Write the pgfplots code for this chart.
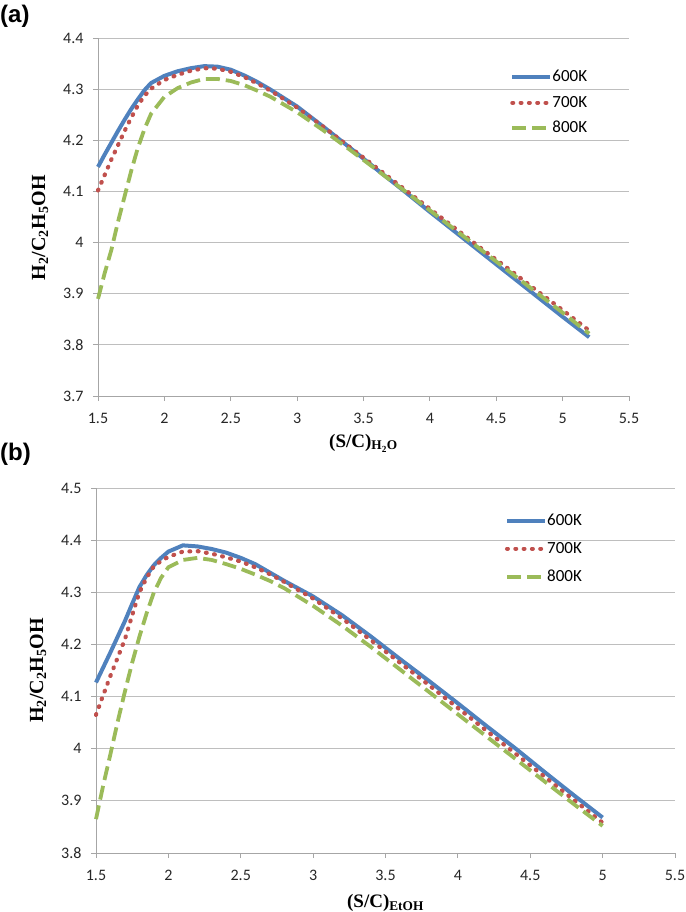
\documentclass[border=0pt]{standalone}
\usepackage{fontspec}
\setmainfont{Carlito}
\newfontfamily\labfont{Liberation Serif}
\newfontfamily\panelfont{Liberation Sans}
\usepackage{pgfplots}
\pgfplotsset{compat=1.18}
\definecolor{cblue}{HTML}{4F81BD}
\definecolor{cred}{HTML}{C0504D}
\definecolor{cgreen}{HTML}{9BBB59}
\definecolor{gridc}{HTML}{BEBEBE}
\definecolor{axc}{HTML}{A6A6A6}

\pgfplotstableread{
x a600 a700 a800
1.5 4.148 4.102 3.890
1.55 4.172 4.132 3.940
1.6 4.195 4.162 3.985
1.65 4.218 4.190 4.040
1.7 4.240 4.218 4.090
1.75 4.261 4.244 4.140
1.8 4.280 4.268 4.185
1.85 4.298 4.287 4.222
1.9 4.312 4.301 4.252
2.0 4.326 4.318 4.285
2.1 4.335 4.328 4.302
2.2 4.341 4.336 4.313
2.3 4.345 4.341 4.320
2.4 4.344 4.340 4.320
2.5 4.338 4.334 4.316
2.6 4.327 4.324 4.308
2.7 4.314 4.311 4.297
2.8 4.299 4.297 4.285
3.0 4.266 4.264 4.255
3.2 4.226 4.226 4.219
3.4 4.185 4.186 4.181
3.6 4.143 4.146 4.142
3.8 4.102 4.106 4.103
4.0 4.060 4.066 4.063
4.2 4.019 4.026 4.023
4.4 3.978 3.986 3.983
4.6 3.937 3.947 3.943
4.8 3.896 3.907 3.903
5.0 3.855 3.868 3.863
5.2 3.815 3.828 3.822
}\tableA

\pgfplotstableread{
x b600 b700 b800
1.5 4.127 4.065 3.865
1.55 4.156 4.103 3.930
1.6 4.185 4.140 3.990
1.65 4.215 4.175 4.052
1.7 4.245 4.210 4.110
1.75 4.278 4.256 4.165
1.8 4.310 4.300 4.215
1.85 4.333 4.328 4.260
1.9 4.352 4.350 4.300
1.95 4.366 4.360 4.328
2.0 4.378 4.368 4.348
2.1 4.390 4.378 4.362
2.2 4.388 4.379 4.366
2.3 4.383 4.374 4.362
2.4 4.376 4.367 4.354
2.5 4.366 4.359 4.345
2.6 4.354 4.348 4.334
2.7 4.338 4.335 4.322
2.8 4.322 4.320 4.308
3.0 4.292 4.288 4.274
3.2 4.256 4.250 4.236
3.4 4.215 4.208 4.195
3.6 4.172 4.165 4.152
3.8 4.130 4.122 4.109
4.0 4.087 4.078 4.066
4.2 4.043 4.034 4.023
4.4 4.000 3.990 3.980
4.6 3.955 3.946 3.937
4.8 3.911 3.902 3.894
5.0 3.868 3.858 3.852
}\tableB

\pgfplotsset{
  myax/.style={
    scale only axis,
    axis lines*=left,
    axis line style={-, draw=axc, line width=0.9pt},
    xmin=1.5, xmax=5.5,
    xtick={1.5,2,2.5,3,3.5,4,4.5,5,5.5},
    xticklabels={1.5,2,2.5,3,3.5,4,4.5,5,5.5},
    ymajorgrids,
    major grid style={draw=gridc, line width=0.9pt},
    tick align=outside,
    major tick length=5pt,
    tick style={draw=axc, line width=0.9pt},
    ticklabel style={font=\fontsize{16}{16}\selectfont, text=black!85},
    xticklabel style={yshift=-9pt},
    yticklabel style={xshift=-6pt},
    /pgf/number format/assume math mode=true,
    clip=false,
    legend cell align=left,
    legend image code/.code={\draw[##1] (0pt,0pt) -- (38pt,0pt);},
    legend style={draw=none, fill=none, anchor=north west, inner sep=0pt,
      font=\fontsize{17}{17}\selectfont,
      nodes={inner sep=0pt, text height=11pt, text depth=2pt},
      /tikz/every even column/.style={column sep=4pt}},
    ylabel style={font=\labfont\bfseries\fontsize{20}{20}\selectfont, anchor=center},
    xlabel style={font=\labfont\bfseries\fontsize{19}{19}\selectfont, anchor=center},
  },
  s600/.style={draw=cblue, line width=4pt, line join=round},
  s700/.style={draw=cred, line width=4.2pt, line cap=round, dash pattern=on 0.8pt off 7.5pt},
  s800/.style={draw=cgreen, line width=3.8pt, dash pattern=on 14pt off 6pt},
}

\begin{document}
\begin{tikzpicture}
\path[use as bounding box] (0pt,0pt) rectangle (685pt,-912pt);

\node[anchor=base west, inner sep=0pt, font=\panelfont\bfseries\fontsize{24}{24}\selectfont] at (0pt,-23pt) {(a)};
\node[anchor=base west, inner sep=0pt, font=\panelfont\bfseries\fontsize{24}{24}\selectfont] at (0pt,-460pt) {(b)};

\begin{axis}[myax,
  at={(98pt,-396pt)}, anchor=south west,
  width=531pt, height=358pt,
  ymin=3.7, ymax=4.4,
  ytick={3.7,3.8,3.9,4.0,4.1,4.2,4.3,4.4},
  yticklabels={3.7,3.8,3.9,4,4.1,4.2,4.3,4.4},
  xlabel={(S/C)\textsubscript{H\textsubscript{2}O}},
  xlabel style={at={(axis description cs:0.5,0)}, yshift=-47pt},
  ylabel={H\textsubscript{2}/C\textsubscript{2}H\textsubscript{5}OH},
  ylabel style={at={(axis description cs:-0.109,0.47)}},
  legend style={at={(axis description cs:0.776,0.909)}, row sep=12.5pt},
]
\addplot[s600] table[x=x, y=a600] {\tableA};
\addplot[s700] table[x=x, y=a700] {\tableA};
\addplot[s800] table[x=x, y=a800] {\tableA};
\legend{600K,700K,800K}
\end{axis}

\begin{axis}[myax,
  at={(96pt,-853pt)}, anchor=south west,
  width=579pt, height=365pt,
  ymin=3.8, ymax=4.5,
  ytick={3.8,3.9,4.0,4.1,4.2,4.3,4.4,4.5},
  yticklabels={3.8,3.9,4,4.1,4.2,4.3,4.4,4.5},
  xlabel={(S/C)\textsubscript{EtOH}},
  xlabel style={at={(axis description cs:0.5,0)}, yshift=-50pt},
  ylabel={H\textsubscript{2}/C\textsubscript{2}H\textsubscript{5}OH},
  ylabel style={at={(axis description cs:-0.1,0.5)}},
  legend style={at={(axis description cs:0.706,0.929)}, row sep=15pt},
]
\addplot[s600] table[x=x, y=b600] {\tableB};
\addplot[s700] table[x=x, y=b700] {\tableB};
\addplot[s800] table[x=x, y=b800] {\tableB};
\legend{600K,700K,800K}
\end{axis}
\end{tikzpicture}
\end{document}
